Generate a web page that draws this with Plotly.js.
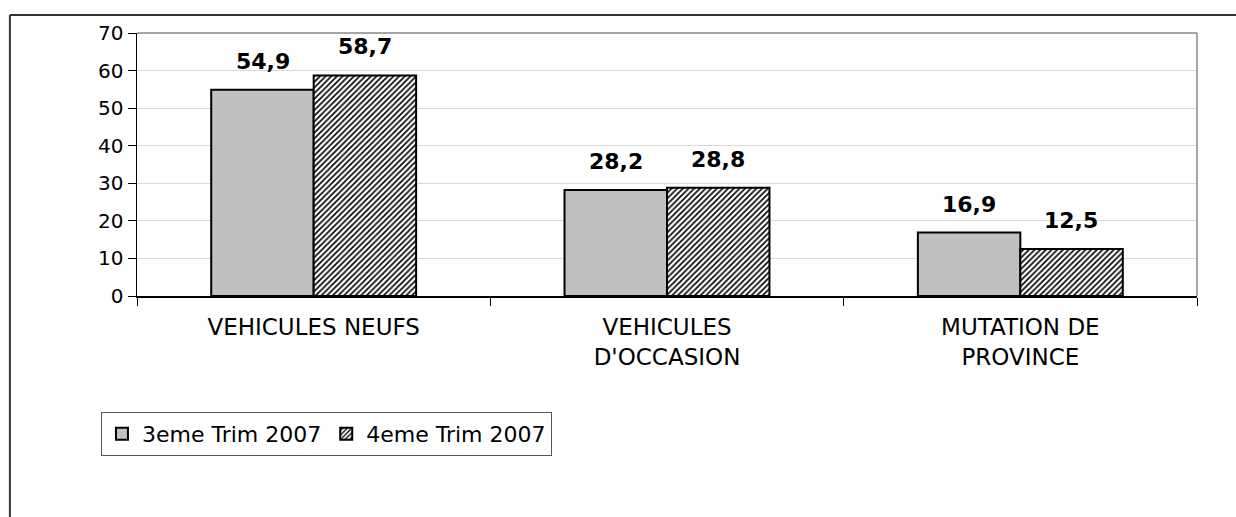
<!DOCTYPE html>
<html><head><meta charset="utf-8">
<script src="https://cdn.plot.ly/plotly-3.0.1.min.js"></script>
<style>html,body{margin:0;padding:0;background:#fff}#chart{width:1236px;height:517px}</style>
</head><body><div id="chart"></div>
<script>
const categories = ["VEHICULES NEUFS", "VEHICULES<br>D'OCCASION", "MUTATION DE<br>PROVINCE"];
const seriesNames = ["3eme Trim 2007", "4eme Trim 2007"];
const q3Values = [54.9, 28.2, 16.9];
const q4Values = [58.7, 28.8, 12.5];
const yTicks = [0, 10, 20, 30, 40, 50, 60, 70];

const font = "DejaVu Sans, Liberation Sans, Arial, sans-serif";
const traces = [
  {type:'bar', name:seriesNames[0], x:categories, y:q3Values,
   marker:{color:'#c0c0c0', line:{color:'#000', width:2}}},
  {type:'bar', name:seriesNames[1], x:categories, y:q4Values,
   marker:{color:'#fff', line:{color:'#000', width:2},
     pattern:{shape:'/', size:4, solidity:0.4, fgcolor:'#000', bgcolor:'#fff'}}}
];
const barHalf = 51;
const annotations = [];
[q3Values, q4Values].forEach((vals, s) => {
  vals.forEach((v, i) => {
    annotations.push({x:categories[i], y:v, xref:'x', yref:'y',
      text:v.toFixed(1).replace('.', ','), showarrow:false,
      xanchor:'center', yanchor:'bottom', xshift:(s === 0 ? -barHalf : barHalf), yshift:14,
      font:{family:font, size:22, color:'#000', weight:'bold'}});
  });
});
const layout = {
  width:1236, height:517,
  margin:{l:137, r:39, t:33, b:221},
  paper_bgcolor:'#fff', plot_bgcolor:'#fff',
  separators:', ',
  barmode:'group', bargap:0.42, bargroupgap:0,
  font:{family:font, color:'#000'},
  showlegend:true,
  legend:{orientation:'h', x:-0.034, y:-0.441, xanchor:'left', yanchor:'top',
    bordercolor:'#555', borderwidth:1, bgcolor:'#fff',
    font:{family:font, size:22, color:'#000'}, tracegroupgap:0},
  annotations:annotations,
  xaxis:{showline:true, linecolor:'#000', linewidth:1.5, ticks:'outside', tickson:'boundaries',
    ticklen:8, tickcolor:'#000', tickfont:{family:font, size:23, color:'#000'},
    ticklabelstandoff:10, showgrid:false, fixedrange:true},
  yaxis:{range:[0,70], tickvals:yTicks, showline:true, linecolor:'#000', linewidth:1.5,
    ticks:'outside', ticklen:8, tickcolor:'#000', tickfont:{family:font, size:20, color:'#000'},
    showgrid:true, gridcolor:'#d9d9d9', gridwidth:1, zeroline:false, fixedrange:true},
  shapes:[
    {type:'line', xref:'paper', yref:'paper', x0:0, x1:1, y0:1, y1:1, line:{color:'#888', width:1.5}},
    {type:'line', xref:'paper', yref:'paper', x0:1, x1:1, y0:0, y1:1, line:{color:'#888', width:1.5}},
    {type:'line', xref:'paper', yref:'paper', x0:-0.1199, x1:1.04, y0:1.0684, y1:1.0684, line:{color:'#333', width:2}},
    {type:'line', xref:'paper', yref:'paper', x0:-0.1199, x1:-0.1199, y0:1.0684, y1:-0.85, line:{color:'#333', width:2}}
  ]
};
Plotly.newPlot('chart', traces, layout, {displayModeBar:false, staticPlot:true});
</script></body></html>
